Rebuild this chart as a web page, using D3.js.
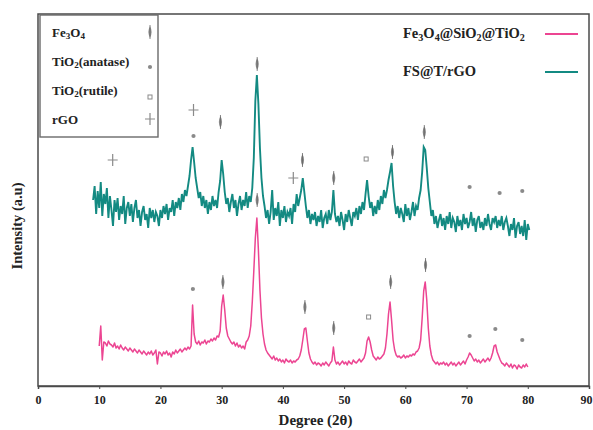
<!DOCTYPE html>
<html>
<head>
<meta charset="utf-8">
<script src="https://cdn.jsdelivr.net/npm/d3@7"></script>
<style>
  html, body { margin: 0; padding: 0; background: #fff; }
  svg { display: block; }
  text { font-family: "Liberation Serif", "Times New Roman", serif; font-weight: bold; fill: #222; }
</style>
</head>
<body>
<svg id="chart" width="593" height="430"></svg>
<script>
// 2θ ticks on the bottom axis
const xTicks = [0, 10, 20, 30, 40, 50, 60, 70, 80, 90];

// Fe3O4@SiO2@TiO2 pattern, 2θ from 10° to 80° in 0.25° steps (counts, offset stacked)
const pinkStart = 10;
const pinkValues = [
  40, 60, 26, 44, 43, 40, 45, 42,
  41, 39, 43, 38, 40, 37, 41, 38,
  36, 39, 37, 35, 38, 36, 34, 37,
  35, 33, 36, 34, 32, 35, 33, 31,
  34, 32, 35, 31, 33, 36, 22, 34,
  33, 30, 34, 32, 35, 31, 33, 29,
  34, 32, 36, 33, 35, 37, 34, 36,
  38, 36, 39, 37, 40, 81, 52, 44,
  42, 45, 41, 44, 43, 46, 42, 45,
  44, 47, 45, 48, 46, 50, 49, 55,
  80, 91, 76, 58, 50, 47, 44, 42,
  44, 40, 43, 39, 41, 38, 40, 37,
  44, 46, 50, 60, 84, 115, 148, 168,
  136, 96, 68, 52, 42, 36, 33, 31,
  29, 27, 30, 26, 28, 25, 27, 24,
  26, 23, 27, 25, 24, 26, 23, 25,
  24, 26, 27, 30, 36, 46, 57, 58,
  45, 33, 27, 24, 22, 24, 21, 23,
  22, 20, 23, 21, 24, 22, 20, 23,
  25, 39, 26, 22, 24, 21, 23, 25,
  22, 24, 21, 25, 23, 22, 26, 24,
  23, 25, 27, 24, 26, 28, 33, 45,
  49, 44, 36, 30, 28, 26, 29, 27,
  28, 30, 32, 38, 52, 72, 84, 66,
  46, 36, 31, 29, 30, 28, 29, 31,
  28, 30, 29, 31, 30, 32, 31, 34,
  35, 38, 46, 68, 95, 104, 86, 58,
  40, 31, 26, 24, 22, 24, 21, 23,
  22, 24, 21, 23, 20, 22, 24, 21,
  23, 20, 22, 24, 21, 23, 25, 22,
  26, 29, 33, 31, 28, 25, 27, 24,
  26, 23, 25, 27, 24, 26, 28, 25,
  28, 33, 40, 41, 34, 30, 26, 23,
  22, 20, 23, 21, 19, 22, 18, 21,
  20, 17, 21, 19, 18, 21, 19, 22,
  19
];

// FS@T/rGO pattern, 2θ from 9° to 80.25° in 0.25° steps
const tealStart = 9;
const tealValues = [
  186, 200, 172, 195, 178, 204, 170, 192,
  182, 198, 168, 190, 176, 160, 186, 174,
  188, 166, 180, 172, 190, 162, 178, 184,
  170, 182, 164, 178, 186, 168, 176, 160,
  174, 180, 166, 172, 158, 178, 168, 176,
  164, 174, 170, 160, 176, 168, 180, 172,
  182, 166, 178, 174, 186, 170, 184, 178,
  188, 176, 192, 184, 196, 190, 200, 210,
  226, 239, 224, 208, 198, 188, 194, 180,
  190, 178, 186, 172, 184, 176, 190, 180,
  186, 178, 194, 205, 226, 212, 194, 182,
  188, 174, 184, 192, 178, 186, 170, 182,
  190, 176, 186, 180, 194, 178, 190, 184,
  198, 228, 285, 311, 282, 238, 208, 190,
  180, 168, 176, 162, 174, 196, 166, 178,
  170, 184, 160, 176, 168, 180, 164, 174,
  170, 178, 162, 182, 174, 192, 180, 188,
  196, 208, 194, 180, 168, 176, 162, 172,
  166, 174, 160, 170, 164, 176, 158, 168,
  172, 162, 176, 166, 174, 196, 172, 164,
  170, 160, 174, 166, 156, 172, 164, 176,
  168, 160, 174, 170, 178, 166, 180, 172,
  184, 176, 192, 206, 190, 178, 184, 170,
  180, 172, 186, 176, 190, 182, 196, 188,
  196, 206, 214, 223, 200, 184, 172, 180,
  168, 178, 172, 164, 182, 170, 178, 166,
  174, 184, 170, 180, 176, 188, 196, 214,
  239, 236, 218, 198, 184, 170, 176, 162,
  170, 158, 166, 172, 160, 168, 156, 170,
  162, 174, 158, 168, 164, 154, 170, 160,
  166, 156, 172, 162, 168, 158, 164, 174,
  160, 168, 154, 166, 170, 158, 164, 156,
  168, 160, 172, 162, 156, 168, 164, 170,
  158, 166, 160, 170, 156, 164, 168, 160,
  150, 162, 156, 168, 148, 160, 164, 152,
  160, 150, 166, 146, 162, 156
];

// Phase assignments drawn above the peaks: [2θ, intensity, phase]
const pinkMarks = [
  [25.3, 97, "anatase"], [30.2, 104, "fe3o4"], [35.8, 186, "fe3o4"],
  [43.6, 79, "fe3o4"], [48.3, 58, "fe3o4"], [54.0, 69, "rutile"],
  [57.6, 104, "fe3o4"], [63.3, 121, "fe3o4"], [70.5, 50, "anatase"],
  [74.7, 57, "anatase"], [79.1, 46, "anatase"]
];
const tealMarks = [
  [12.2, 226, "rgo"], [25.4, 276, "rgo"], [25.4, 250, "anatase"],
  [29.8, 264, "fe3o4"], [35.8, 322, "fe3o4"], [41.7, 208, "rgo"],
  [43.2, 226, "fe3o4"], [48.3, 208, "fe3o4"], [53.6, 227, "rutile"],
  [57.9, 234, "fe3o4"], [63.1, 254, "fe3o4"], [70.5, 199, "anatase"],
  [75.4, 193, "anatase"], [79.1, 195, "anatase"]
];

const phaseLegend = [
  { key: "fe3o4", parts: [["Fe", 0], ["3", 1], ["O", 0], ["4", 1]] },
  { key: "anatase", parts: [["TiO", 0], ["2", 1], ["(anatase)", 0]] },
  { key: "rutile", parts: [["TiO", 0], ["2", 1], ["(rutile)", 0]] },
  { key: "rgo", parts: [["rGO", 0]] }
];
const seriesLegend = [
  { color: "#ec4592", parts: [["Fe", 0], ["3", 1], ["O", 0], ["4", 1], ["@SiO", 0], ["2", 1], ["@TiO", 0], ["2", 1]] },
  { color: "#138a82", parts: [["FS@T/rGO", 0]] }
];

const svg = d3.select("#chart");
const margin = { left: 38, right: 4, top: 14, bottom: 44 };
const W = 593, H = 430;

const x = d3.scaleLinear().domain([0, 90]).range([margin.left, W - margin.right]);
const y = d3.scaleLinear().domain([0, 372]).range([H - margin.bottom, margin.top]);

const toPoints = (start, vals) => vals.map((v, i) => [start + i * 0.25, v]);
const line = d3.line().x(d => x(d[0])).y(d => y(d[1]));

// Patterns
svg.append("path").datum(toPoints(pinkStart, pinkValues))
  .attr("d", line).attr("fill", "none")
  .attr("stroke", seriesLegend[0].color).attr("stroke-width", 1.5)
  .attr("stroke-linejoin", "round");
svg.append("path").datum(toPoints(tealStart, tealValues))
  .attr("d", line).attr("fill", "none")
  .attr("stroke", seriesLegend[1].color).attr("stroke-width", 1.9)
  .attr("stroke-linejoin", "miter");

// Phase symbols
const markColor = "#8a8a8a";
function drawMark(g, key, cx, cy) {
  if (key === "fe3o4") {
    g.append("path")
      .attr("d", `M${cx},${cy - 6} Q${cx + 3.2},${cy} ${cx},${cy + 6} Q${cx - 3.2},${cy} ${cx},${cy - 6}Z`)
      .attr("fill", markColor);
    g.append("line").attr("x1", cx).attr("x2", cx).attr("y1", cy - 7).attr("y2", cy + 7)
      .attr("stroke", "#666").attr("stroke-width", 0.8);
  } else if (key === "anatase") {
    g.append("circle").attr("cx", cx).attr("cy", cy).attr("r", 2.1).attr("fill", markColor);
  } else if (key === "rutile") {
    g.append("rect").attr("x", cx - 2).attr("y", cy - 2).attr("width", 4).attr("height", 4)
      .attr("fill", "none").attr("stroke", markColor).attr("stroke-width", 1);
  } else if (key === "rgo") {
    g.append("path")
      .attr("d", `M${cx - 5},${cy} L${cx + 5},${cy} M${cx},${cy - 6} L${cx},${cy + 6}`)
      .attr("stroke", markColor).attr("stroke-width", 1.2);
  }
}
const marks = svg.append("g");
pinkMarks.concat(tealMarks).forEach(([a, v, k]) => drawMark(marks, k, x(a), y(v)));

// Frame
svg.append("rect")
  .attr("x", margin.left).attr("y", margin.top)
  .attr("width", W - margin.left - margin.right).attr("height", H - margin.top - margin.bottom)
  .attr("fill", "none").attr("stroke", "#4a4a4a").attr("stroke-width", 1.5);

// Bottom axis
const xAxis = svg.append("g")
  .attr("transform", `translate(0,${H - margin.bottom})`)
  .call(d3.axisBottom(x).tickValues(xTicks).tickSize(3).tickPadding(6).tickFormat(d3.format("d")));
xAxis.select(".domain").attr("stroke", "#4a4a4a").attr("stroke-width", 1.5);
xAxis.selectAll(".tick line").attr("stroke", "#4a4a4a");
xAxis.selectAll(".tick text")
  .attr("font-family", "Liberation Serif").attr("font-weight", "bold")
  .attr("font-size", 12).attr("fill", "#333");
// keep the last label inside the page edge
xAxis.selectAll(".tick text").filter(d => d === 90).attr("text-anchor", "end").attr("dx", 3);

// Axis titles
svg.append("text").attr("x", (x(0) + x(90)) / 2 + 2).attr("y", 425)
  .attr("text-anchor", "middle").attr("font-size", 15).text("Degree (2θ)");
svg.append("text")
  .attr("transform", `translate(22,${226}) rotate(-90)`)
  .attr("text-anchor", "middle").attr("font-size", 14.5).text("Intensity (a.u)");

// Text with subscripts
function richText(g, parts, tx, ty, size) {
  const t = g.append("text").attr("x", tx).attr("y", ty).attr("font-size", size);
  parts.forEach(([s, sub]) => {
    t.append("tspan")
      .attr("font-size", sub ? size * 0.7 : size)
      .attr("baseline-shift", sub ? "-25%" : null)
      .text(s);
  });
  return t;
}

// Phase legend box
const pl = svg.append("g");
pl.append("rect").attr("x", 40).attr("y", 15).attr("width", 118).attr("height", 122)
  .attr("fill", "#fff").attr("stroke", "#6a6a6a").attr("stroke-width", 1.4);
phaseLegend.forEach((p, i) => {
  const ty = 37 + i * 29;
  richText(pl, p.parts, 52, ty, 13);
  drawMark(pl, p.key, 150, ty - 5 + (p.key === "anatase" ? 6 : 0) + (p.key === "rutile" ? 7 : 0));
});

// Series legend
const sl = svg.append("g");
seriesLegend.forEach((s, i) => {
  const ty = 38 + i * 38;
  richText(sl, s.parts, 403, ty, 14.5);
  sl.append("line").attr("x1", 545).attr("x2", 578).attr("y1", ty - 4).attr("y2", ty - 4)
    .attr("stroke", s.color).attr("stroke-width", 2);
});
</script>
</body>
</html>
